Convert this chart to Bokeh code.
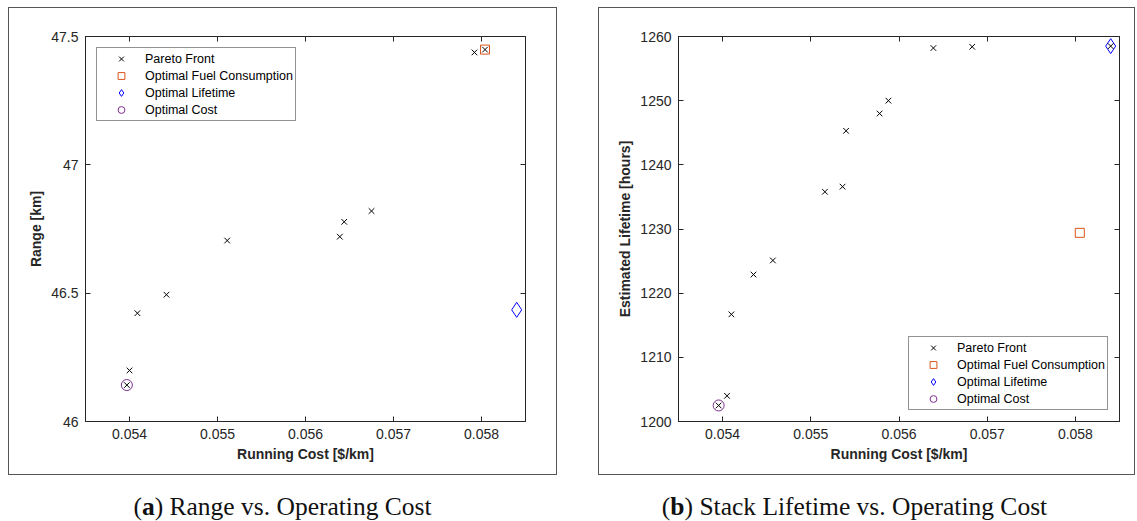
from bokeh.plotting import figure
from bokeh.models import (Range1d, LinearAxis, FixedTicker, CustomJSTickFormatter,
                          Legend, LegendItem, Div)
from bokeh.layouts import row, column
from bokeh.embed import file_html
from bokeh.resources import INLINE

# ---------------- data ----------------
x_ticks = [0.054, 0.055, 0.056, 0.057, 0.058]

# (a) Range vs running cost
a_cost = [0.05397, 0.05400, 0.05409, 0.05442, 0.05511, 0.05639, 0.05644, 0.05675, 0.05792, 0.05804]
a_range = [46.142, 46.199, 46.422, 46.494, 46.705, 46.720, 46.778, 46.820, 47.438, 47.449]
a_fuel = ([0.05804], [47.449])
a_life = ([0.05840], [46.435])
a_costopt = ([0.05397], [46.142])
a_yticks = [46, 46.5, 47, 47.5]

# (b) Estimated lifetime vs running cost
b_cost = [0.053955, 0.05405, 0.05410, 0.05435, 0.05457, 0.05516, 0.05536, 0.05540,
          0.05578, 0.05588, 0.05639, 0.05683, 0.05840]
b_life = [1202.5, 1204.0, 1216.7, 1222.9, 1225.1, 1235.8, 1236.6, 1245.3,
          1248.0, 1250.0, 1258.2, 1258.4, 1258.5]
b_fuel = ([0.05805], [1229.4])
b_life_opt = ([0.05840], [1258.5])
b_costopt = ([0.053955], [1202.5])
b_yticks = [1200, 1210, 1220, 1230, 1240, 1250, 1260]

labels = ["Pareto Front", "Optimal Fuel Consumption", "Optimal Lifetime", "Optimal Cost"]

AX = "#262626"
FONT = "Liberation Sans"
fmt = CustomJSTickFormatter(code="return String(Number(tick.toFixed(4)));")


def style_axis(ax, ticks, show_labels=True, label=None):
    ax.ticker = FixedTicker(ticks=ticks)
    ax.major_tick_in = 5
    ax.major_tick_out = 0
    ax.minor_tick_line_color = None
    ax.axis_line_color = AX
    ax.major_tick_line_color = AX
    ax.major_label_text_font = FONT
    ax.major_label_text_font_size = "14px"
    ax.major_label_text_color = AX
    if show_labels:
        ax.formatter = fmt
        ax.major_label_standoff = 7
    else:
        ax.formatter = CustomJSTickFormatter(code="return '';")
        ax.major_label_standoff = 0
    if label:
        ax.axis_label = label
        ax.axis_label_text_font = FONT
        ax.axis_label_text_font_size = "14px"
        ax.axis_label_text_font_style = "bold"
        ax.axis_label_text_color = AX
        ax.axis_label_standoff = 4


def make_fig(width, height, ml, mr, mt, mb, ylim, yticks, ylabel,
             pareto, fuel, life, costopt, legend_loc, margin):
    p = figure(width=width, height=height, output_backend="svg", toolbar_location=None,
               x_range=Range1d(0.0535, 0.0585), y_range=Range1d(*ylim),
               min_border_left=ml, min_border_right=mr, min_border_top=mt,
               min_border_bottom=mb, x_axis_location=None, y_axis_location=None)
    p.margin = margin
    p.styles = {"border": "1px solid #555555"}
    p.grid.visible = False
    p.outline_line_color = AX
    p.background_fill_color = "white"
    p.border_fill_color = "white"

    xb = LinearAxis(); style_axis(xb, x_ticks, True, "Running Cost [$/km]")
    yl = LinearAxis(); style_axis(yl, yticks, True, ylabel)
    xt = LinearAxis(); style_axis(xt, x_ticks, False)
    yr = LinearAxis(); style_axis(yr, yticks, False)
    p.add_layout(xb, "below")
    p.add_layout(yl, "left")
    p.add_layout(xt, "above")
    p.add_layout(yr, "right")

    r_fuel = p.scatter(fuel[0], fuel[1], marker="square", size=9, fill_color=None,
                       line_color="#D95319", line_width=1)
    r_life = p.scatter(life[0], life[1], marker="diamond", size=15, fill_color=None,
                       line_color="#0000FF", line_width=1)
    r_cost = p.scatter(costopt[0], costopt[1], marker="circle", size=11, fill_color=None,
                       line_color="#7E2F8E", line_width=1)
    r_par = p.scatter(pareto[0], pareto[1], marker="x", size=8, line_color="black",
                      line_width=1)

    leg = Legend(items=[LegendItem(label=labels[0], renderers=[r_par]),
                        LegendItem(label=labels[1], renderers=[r_fuel]),
                        LegendItem(label=labels[2], renderers=[r_life]),
                        LegendItem(label=labels[3], renderers=[r_cost])],
                 location=legend_loc, margin=11, padding=2, spacing=0,
                 label_height=17, glyph_height=17, glyph_width=44, label_standoff=2,
                 label_text_font=FONT, label_text_font_size="12.5px",
                 label_text_color="black", border_line_color=AX, border_line_width=1,
                 background_fill_color="white", background_fill_alpha=1)
    p.add_layout(leg)
    return p


fa = make_fig(549, 468, 76, 33, 27, 54, (46, 47.5), a_yticks, "Range [km]",
              (a_cost, a_range), a_fuel, a_life, a_costopt, "top_left", (7, 0, 0, 8))
fb = make_fig(537, 468, 79, 17, 28, 55, (1200, 1260), b_yticks, "Estimated Lifetime [hours]",
              (b_cost, b_life), b_fuel, b_life_opt, b_costopt, "bottom_right", (7, 0, 0, 41))

cap_style = {"font-family": "Liberation Serif", "font-size": "25.5px", "color": "#111111",
             "text-align": "center", "width": "100%"}
da = Div(text="(<b>a</b>) Range vs. Operating Cost", width=549, margin=(14, 0, 0, 8),
         styles=cap_style)
db = Div(text="(<b>b</b>) Stack Lifetime vs. Operating Cost", width=549, margin=(14, 0, 0, 23),
         styles=cap_style)

layout = column(row(fa, fb), row(da, db))

with open("out.html", "w") as f:
    f.write(file_html(layout, INLINE))
